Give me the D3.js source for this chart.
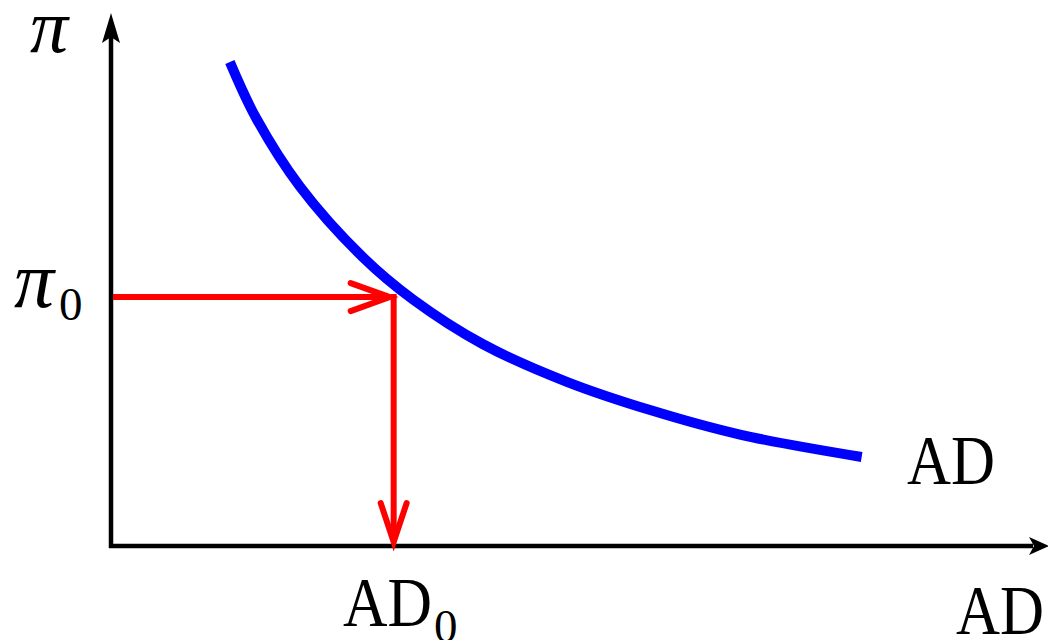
<!DOCTYPE html>
<html>
<head>
<meta charset="utf-8">
<script src="https://cdn.jsdelivr.net/npm/d3@7"></script>
<style>
  body { margin: 0; background: #fff; }
  text { font-family: "Liberation Serif", "DejaVu Serif", serif; fill: #000; }
</style>
</head>
<body>
<div id="chart"></div>
<script>
// AD curve (x = output, y = inflation)
var curveAD = [1.27, 1.55, 2.02, 2.69, 3.23, 3.97, 4.87, 5.76, 6.72, 8.02];
var curvePi = [9.08, 8.03, 6.74, 5.42, 4.62, 3.79, 3.08, 2.55, 2.09, 1.67];

// the marked point
var pi0 = 4.67;
var ad0 = 3.02;

var curveLabel = "AD";
var xAxisLabel = "AD";
var yAxisLabel = "π";
var piTick = ["π", "0"];
var adTick = ["AD", "0"];

var svgWidth = 1048;
var svgHeight = 640;

var svg = d3.select("#chart")
  .append("svg")
  .attr("width", svgWidth)
  .attr("height", svgHeight);

// x axis runs from origin to the arrow tip, same for y
var xScale = d3.scaleLinear().domain([0, 10]).range([111, 1047]);
var yScale = d3.scaleLinear().domain([0, 10]).range([546, 13]);

var x0 = xScale(0), y0 = yScale(0);
var xTip = xScale(10), yTip = yScale(10);

// Axes
svg.append("line")
  .attr("x1", x0).attr("y1", y0 + 2)
  .attr("x2", x0).attr("y2", yTip + 20)
  .attr("stroke", "#000").attr("stroke-width", 4.5);

svg.append("line")
  .attr("x1", x0 - 2).attr("y1", y0)
  .attr("x2", xTip - 14).attr("y2", y0)
  .attr("stroke", "#000").attr("stroke-width", 4.5);

// filled arrow heads with a notched back
svg.append("path")
  .attr("d", `M${x0},${yTip} L${x0 + 9},${yTip + 30} L${x0},${yTip + 24} L${x0 - 9},${yTip + 30} Z`)
  .attr("fill", "#000");

svg.append("path")
  .attr("d", `M${xTip + 2},${y0} L${xTip - 18},${y0 - 9} L${xTip - 13},${y0} L${xTip - 18},${y0 + 9} Z`)
  .attr("fill", "#000");

// AD curve
var pts = curveAD.map((d, i) => [d, curvePi[i]]);
var line = d3.line()
  .x(d => xScale(d[0]))
  .y(d => yScale(d[1]))
  .curve(d3.curveCatmullRom);

svg.append("path")
  .datum(pts)
  .attr("d", line)
  .attr("fill", "none")
  .attr("stroke", "#0000ff")
  .attr("stroke-width", 10);

// Red guide arrows
var red = "#ff0000";
var px = xScale(ad0), py = yScale(pi0);

svg.append("line")
  .attr("x1", x0 + 2).attr("y1", py)
  .attr("x2", px - 4).attr("y2", py)
  .attr("stroke", red).attr("stroke-width", 6);

svg.append("path")
  .attr("d", `M${px - 43},${py - 14} L${px - 4},${py} L${px - 43},${py + 14}`)
  .attr("fill", "none").attr("stroke", red)
  .attr("stroke-width", 6).attr("stroke-linecap", "round").attr("stroke-linejoin", "miter");

svg.append("line")
  .attr("x1", px).attr("y1", py - 3)
  .attr("x2", px).attr("y2", y0 - 6)
  .attr("stroke", red).attr("stroke-width", 6);

svg.append("path")
  .attr("d", `M${px - 13},${y0 - 43} L${px},${y0 - 4} L${px + 13},${y0 - 43}`)
  .attr("fill", "none").attr("stroke", red)
  .attr("stroke-width", 6).attr("stroke-linecap", "round").attr("stroke-linejoin", "miter");

// Labels
svg.append("text")
  .attr("x", 30).attr("y", 52)
  .attr("font-size", 76).attr("font-style", "italic")
  .text(yAxisLabel);

var piT = svg.append("text")
  .attr("x", 14).attr("y", py + 10)
  .attr("font-size", 80).attr("font-style", "italic");
piT.append("tspan").text(piTick[0]);
piT.append("tspan").attr("x", 59).attr("y", py + 23)
  .attr("font-size", 47).attr("font-style", "normal").text(piTick[1]);

var adT = svg.append("text")
  .attr("x", 343).attr("y", 626)
  .attr("font-size", 70);
adT.append("tspan").attr("textLength", 89).attr("lengthAdjust", "spacingAndGlyphs").text(adTick[0]);
adT.append("tspan").attr("x", 434).attr("y", 642)
  .attr("font-size", 47).text(adTick[1]);

svg.append("text")
  .attr("x", 907).attr("y", 484)
  .attr("font-size", 70)
  .attr("textLength", 88).attr("lengthAdjust", "spacingAndGlyphs")
  .text(curveLabel);

svg.append("text")
  .attr("x", 956).attr("y", 634)
  .attr("font-size", 70)
  .attr("textLength", 88).attr("lengthAdjust", "spacingAndGlyphs")
  .text(xAxisLabel);
</script>
</body>
</html>
